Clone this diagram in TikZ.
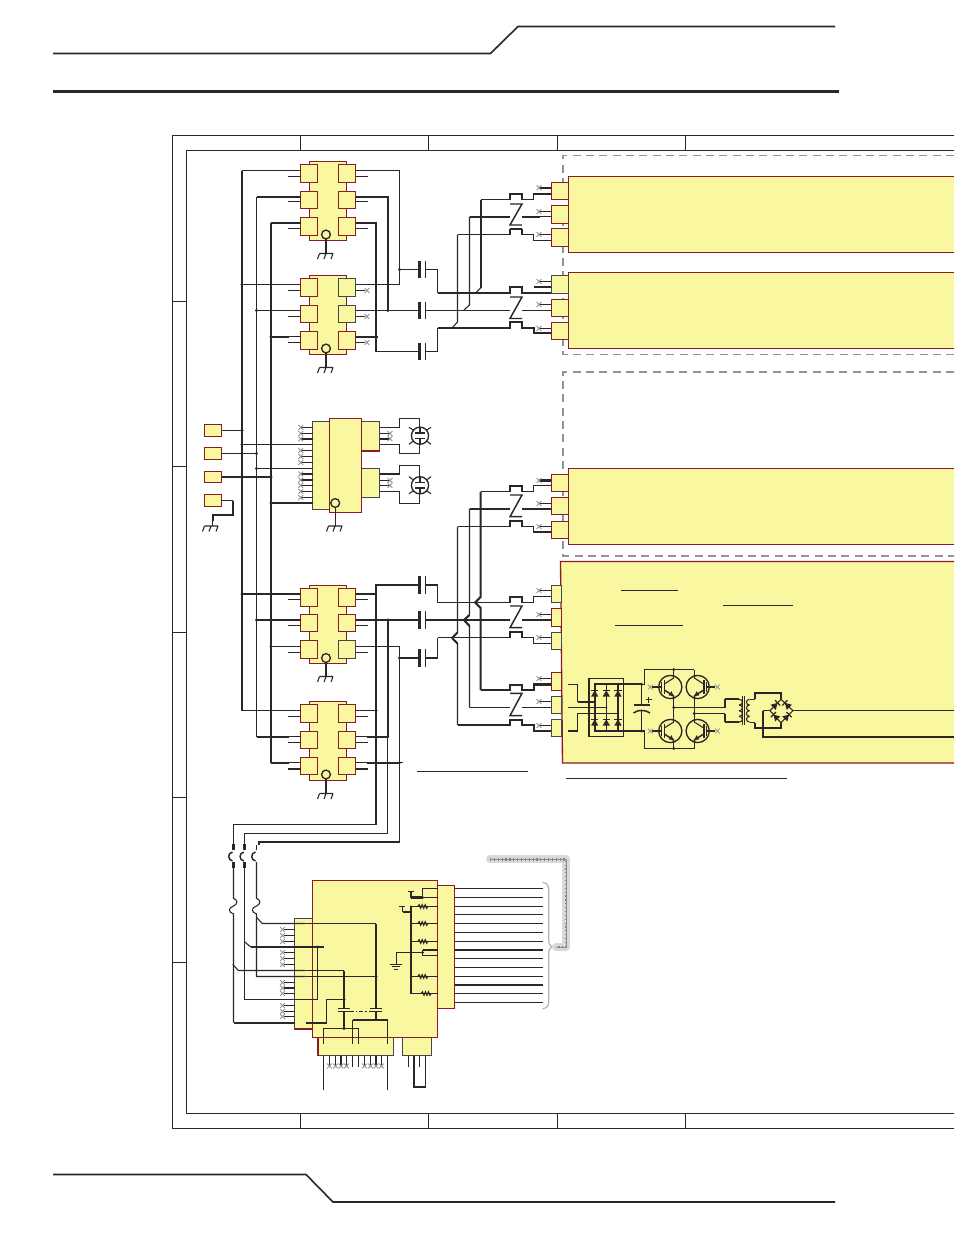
\documentclass[tikz,border=0pt]{standalone}
\definecolor{ink}{HTML}{2B2627}
\definecolor{yel}{HTML}{F9F7A0}
\definecolor{dred}{HTML}{8A1A24}
\definecolor{dgray}{HTML}{45474A}
\tikzset{
 t/.style={draw=ink,line width=0.8pt},
 k/.style={draw=ink,line width=1.55pt},
 ybox/.style={fill=yel,draw=dred,line width=0.8pt},
 gbox/.style={fill=yel,draw=dgray,line width=0.8pt},
 frameline/.style={draw=ink,line width=0.8pt},
 dashbox/.style={draw=gray!85,line width=1.2pt,dash pattern=on 6pt off 4pt},
 mk/.style={draw=gray!85,line width=0.6pt},
 rule/.style={draw=ink,line width=0.75pt},
}
% junction dot
\newcommand\jn[2]{\fill[ink] (#1,#2) circle[radius=1.6];}
% x mark
\newcommand\xm[2]{\draw[mk] (#1-2.4,#2-2.4)--(#1+2.4,#2+2.4) (#1-2.4,#2+2.4)--(#1+2.4,#2-2.4);}
% stub with x at the connector of a panel
\newcommand\xst[2][t]{\draw[#1] (539,#2)--(551,#2);\xm{539}{#2}}
% ground
\newcommand\gnd[2]{\draw[t] (#1-6.5,#2)--(#1+7,#2) (#1-6.5,#2)--(#1-8.5,#2+5.5) (#1,#2)--(#1-2,#2+5.5) (#1+7,#2)--(#1+5,#2+5.5);}
% module: top, p1t,p1b,p2t,p2b,p3t,p3b, bottom, circle y
\newcommand\modul[9]{%
 \path[ybox] (309.5,#1) rectangle (346.5,#8);
 \foreach \a/\b in {#2/#3,#4/#5,#6/#7}{
  \path[ybox] (300.5,\a) rectangle (317.5,\b);
  \path[ybox] (338.5,\a) rectangle (355.5,\b);}
 \draw[t,line width=1pt,fill=yel] (326,#9) circle[radius=4.4];
 \draw[t] (326,#9+4.4)--(326,#8+13);
 \gnd{326}{#8+13}}
% contact row
\newcommand\crow[5][t]{\draw[#1] (#2,#3)--(510,#3)--(510,#4)--(522,#4)--(522,#3)--(533.7,#3)--(533.7,#5)--(551,#5);\draw[k] (510,#4)--(522,#4);}
% Z contact
\newcommand\zc[2]{\draw[draw=ink,line width=1.1pt] (510,#1)--(522,#1)--(510,#2)--(522,#2);}
% diode: x,y,angle
\newcommand\diode[3]{\begin{scope}[shift={(#1,#2)},rotate=#3]
 \fill[ink] (-3.6,3.2)--(3.6,3.2)--(0,-3)--cycle; \draw[k,line width=1pt] (-3.6,-3)--(3.6,-3);\end{scope}}
% transistor: cx,cy,xscale
\newcommand\trans[3]{\begin{scope}[shift={(#1,#2)},xscale=#3]
 \draw[t,line width=1pt] (0,0) circle[radius=11.6];
 \draw[k,line width=1.2pt] (-6,-7)--(-6,7);
 \draw[t] (-9,-5)--(-9,5) (-11.6,0)--(-9,0);
 \draw[t] (-6,-3)--(3.4,-9)--(3.4,-11.6);
 \draw[k,line width=1.1pt] (-6,3)--(3.4,9)--(3.4,11.6);
 \fill[ink] (3.4,9)--(-1.6,8.4)--(1.2,4.2)--cycle;
 \end{scope}}
% resistor
\newcommand\resi[2]{\draw[draw=ink,line width=0.9pt] (#1-5,#2)--(#1-3.5,#2-1.7)--(#1-2,#2+1.7)--(#1-.5,#2-1.7)--(#1+1,#2+1.7)--(#1+2.5,#2-1.7)--(#1+4,#2+1.7)--(#1+5,#2);}
% tube
\newcommand\tube[2]{\draw[t,line width=1pt] (#1,#2) circle[radius=8.6];
 \draw[t] (#1-11,#2-8.5)--(#1-6,#2-5) (#1+11,#2-8.5)--(#1+6,#2-5) (#1-11,#2+8.5)--(#1-6,#2+5) (#1+11,#2+8.5)--(#1+6,#2+5);
 \draw[t] (#1-5,#2-2.7)--(#1+5,#2-2.7); \draw[t,line width=1.2pt] (#1-5,#2+2.9)--(#1+5,#2+2.9);
 \draw[t] (#1,#2-8.6)--(#1,#2-2.7) (#1,#2+8.6)--(#1,#2+2.9);}
\begin{document}
\begin{tikzpicture}[x=0.75pt,y=-0.75pt]
\useasboundingbox (0,0) rectangle (954,1235);
\fill[white] (0,0) rectangle (954,1235);
% page furniture
\draw[draw=ink,line width=1.2pt] (53,53.5)--(490.5,53.5)--(518,26.5)--(835,26.5);
\draw[draw=ink,line width=2.3pt] (53,91.5)--(839,91.5);
\draw[draw=ink,line width=1.2pt] (53,1174.5)--(306,1174.5)--(333,1202)--(835,1202);
% frame
\draw[frameline] (954,135.5)--(172.5,135.5)--(172.5,1128.5)--(954,1128.5);
\draw[frameline] (954,150.5)--(186.5,150.5)--(186.5,1113.5)--(954,1113.5);
\foreach \x in {300.5,428.5,557.5,685.5}{\draw[frameline] (\x,135.5)--(\x,150.5) (\x,1113.5)--(\x,1128.5);}
\foreach \y in {301.5,466.5,632.5,797.5,962.5}{\draw[frameline] (172.5,\y)--(186.5,\y);}
% dashed regions
\draw[dashbox] (954,155.5)--(563,155.5)--(563,354.5)--(954,354.5);
\draw[dashbox] (954,372)--(563,372)--(563,556)--(954,556);
% panels
\path[ybox] (954,176.5)--(568.5,176.5)--(568.5,252.5)--(954,252.5);
\path[ybox] (954,272.5)--(568.5,272.5)--(568.5,348.5)--(954,348.5);
\path[ybox] (954,468.5)--(568.5,468.5)--(568.5,544.5)--(954,544.5);
\path[ybox,line width=1pt] (954,561.5)--(560.5,561.5)--(562.5,763)--(954,763);
% panel connectors
\foreach \a/\b in {182.5/199.5,205.5/223.5,228.5/246.5,275.5/293.5,299.5/316.5,322.5/339.5,474.5/491.5,497.5/514.5,521.5/538.5}
 {\path[ybox] (551.5,\a) rectangle (568.5,\b);}
\path[gbox] (551.5,275.5) rectangle (568.5,293.5);
\foreach \a/\b in {608.5/626.5,672.5/690.5}{\path[ybox] (551.5,\a) rectangle (561.5,\b);}
\foreach \a/\b in {585.5/602.5,632.5/649.5,696.5/713.5,719.5/736.5}{\path[gbox] (551.5,\a) rectangle (561.8,\b);}
% modules
\modul{161.5}{164.5}{182.5}{191.5}{208.5}{217.5}{235.5}{240.5}{234.5}
\modul{275.5}{278.5}{296.5}{305.5}{322.5}{331.5}{349.5}{354.5}{348.5}
\modul{585.5}{588.5}{606.5}{614.5}{631.5}{640.5}{658.5}{663.5}{658}
\modul{701.5}{704.5}{722.5}{731.5}{748.5}{757.5}{774.5}{780.5}{774.5}
\path[gbox] (338.5,278.5) rectangle (355.5,296.5);
\path[gbox] (338.5,305.5) rectangle (355.5,322.5);
\path[gbox] (338.5,640.5) rectangle (355.5,658.5);
% pad stubs
\foreach \y in {176.5,201.5,228.5,290.5,316.5,342.5,599.5,625.5,652.5,716.5,742.5}{\draw[t] (288,\y)--(300.5,\y);}
\draw[k] (288,768.7)--(300.5,768.7);
\foreach \y in {176.5,201.5,228.5,599.5,625.5,652.5,716.5,742.5}{\draw[t] (355.5,\y)--(367.5,\y);}
\draw[k] (355.5,768.7)--(367.5,768.7);
\foreach \y in {290.5,316.5,342.5}{\draw[t] (355.5,\y)--(365,\y);\xm{367}{\y}}
% buses
\draw[k] (242,170.5)--(242,710.5);
\draw[t] (256.5,197)--(256.5,736.7);
\draw[k] (271,223)--(271,762.7);
\draw[t] (242,170.5)--(300.5,170.5);
\draw[k] (256.5,197)--(289,197); \draw[t] (289,197)--(300.5,197);
\draw[k] (271,223)--(290,223); \draw[t] (290,223)--(300.5,223);
\draw[t] (242,284.5)--(300.5,284.5); \jn{242}{284.5}
\draw[t] (256.5,310.5)--(300.5,310.5); \jn{256.5}{310.5}
\draw[k] (271,336.7)--(289,336.7); \draw[t] (289,336.7)--(300.5,336.7); \jn{271}{336.7}
\draw[k] (242,594)--(289,594); \draw[t] (289,594)--(300.5,594); \jn{242}{594}
\draw[k] (256.5,620)--(300.5,620); \jn{256.5}{620}
\draw[t] (271,646.5)--(300.5,646.5); \jn{271}{646.5}
\draw[t] (242,710.5)--(300.5,710.5);
\draw[k] (256.5,736.7)--(289,736.7); \draw[t] (289,736.7)--(300.5,736.7);
\draw[k] (271,762.7)--(289,762.7); \draw[t] (289,762.7)--(300.5,762.7);
% module 1/2 right side
\draw[t] (355.5,170.5)--(399.5,170.5)--(399.5,284.5)--(355.5,284.5);
\draw[t] (355.5,197)--(367,197); \draw[k] (367,197)--(387.7,197)--(387.7,310.5);
\draw[k] (355.5,222.7)--(376,222.7)--(376,351.5);
\draw[t] (355.5,310.5)--(419,310.5);
\draw[k] (355.5,336.7)--(378,336.7);
\jn{399.5}{269.5}\jn{387.7}{310.5}\jn{376}{336.7}
% capacitors upper
\newcommand\capa[1]{\draw[k,line width=1.8pt] (419.5,#1-8.7)--(419.5,#1+8.7); \draw[k,line width=1.2pt] (425.3,#1-8.7)--(425.3,#1+8.7);}
\draw[t] (399.5,269.5)--(419,269.5); \capa{269.5}
\capa{310.5}
\draw[t] (376,351.5)--(419,351.5); \capa{351.5}
\draw[t] (425,269.5)--(437.5,269.5)--(437.5,293);
\draw[t] (425,351.5)--(437.5,351.5)--(437.5,328);
\draw[t] (425,310.5)--(510,310.5);
% risers panel 1
\draw[k] (481,199.5)--(481,287.7); \draw[t] (481,287.7)--(475.5,293);
\draw[t] (469.5,216.7)--(469.5,305)--(463.5,310.5);
\draw[t] (457.5,234.5)--(457.5,322)--(452,328);
% panel 1 rows
\crow{481}{199.5}{194}{194}
\draw[k] (469.5,216.7)--(510,216.7) (522,216.7)--(540,216.7); \draw[t] (540,216.7)--(551,216.7);
\crow{457.5}{234.5}{229.3}{240.5}
\zc{204}{225}
\xst[k]{187.7} \xst{211.5} \xst{234.5}
% panel 2 rows
\crow[k]{437.5}{293}{286.7}{293}
\draw[t] (533.7,293)--(551,293);
\draw[t] (533.7,287)--(551,287);
\draw[t] (522,310.5)--(551,310.5);
\crow[k]{437.5}{328}{322}{333.3}
\zc{297}{318.5}
\xst{281.5} \xst{304.5} \xst{328.5}
% panel 3 risers with jump
\draw[k] (480.7,491.5)--(480.7,597)--(475,602.5)--(480.7,608)--(480.7,690);
\draw[t] (469.5,508.7)--(469.5,615)--(464,620)--(469.5,626)--(469.5,707.5);
\draw[t] (457.5,526.5)--(457.5,632.5)--(452,638)--(457.5,643.5)--(457.5,725);
\draw[k] (452,638)--(457.5,632.5) (452,638)--(457.5,643.5);
\draw[k] (464,620)--(469.5,615) (464,620)--(469.5,626);
% panel 3 rows
\crow{480.7}{491.5}{485.7}{485.7}
\draw[k] (469.5,508.7)--(510,508.7) (522,508.7)--(551,508.7);
\crow{457.5}{526.5}{521}{532}
\zc{495}{516.7}
\xst[k]{480.5} \xst{503.5} \xst{526.5}
% big panel rows
\draw[t] (425,585)--(437.5,585)--(437.5,602.5);
\crow{437.5}{602.5}{596.7}{596.7}
\draw[k] (425,620)--(510,620) (522,620)--(551,620);
\draw[t] (425,658)--(437.5,658)--(437.5,637.5);
\crow{437.5}{637.5}{632}{643.5}
\zc{606}{627.7}
\xst{590.5} \xst{614.5} \xst{637.5}
\crow[k]{480.7}{690}{685}{684.5}
\draw[t] (469.5,707.5)--(510,707.5) (522,707.5)--(551,707.5);
\crow[k]{457.5}{725}{719.7}{731}
\zc{693.3}{715.7}
\xst{678.5} \xst{701.5} \xst{725.5}
% module 3/4 right side
\draw[t] (355.5,594)--(367,594); \draw[k] (367,594)--(376,594);
\draw[k] (376,824.5)--(376,585)--(419,585); \capa{585}
\draw[k] (355.5,620)--(419,620); \capa{620}
\draw[k] (387.7,620)--(387.7,736.7); \draw[t] (387.5,736.7)--(387.5,833.5);
\draw[t] (355.5,646.5)--(399.5,646.5);\draw[t] (399.5,646.5)--(399.5,842);
\draw[k] (399.5,658)--(419,658); \capa{658} \jn{399.5}{658} \jn{387.7}{620}
\draw[t] (355.5,710.5)--(376,710.5); \jn{376}{710.5}
\draw[t] (355.5,736.7)--(367,736.7); \draw[k] (367,736.7)--(387.7,736.7);
\draw[t] (355.5,762.7)--(367,762.7); \draw[k] (367,762.7)--(399.5,762.7); \draw[t] (399.5,762.7)--(402.5,762.7);
\jn{387.7}{736.7}\jn{399.5}{762.7}
% input terminals
\foreach \a/\b in {424.5/436.5,447.5/459.5,471.5/482.5,494.5/506.5}{\path[ybox] (204.5,\a) rectangle (221.5,\b);}
\draw[t] (221.5,430.5)--(242,430.5); \jn{242}{430.5}
\draw[t] (221.5,453.5)--(256.5,453.5); \jn{256.5}{453.5}
\draw[k] (221.5,477)--(271,477); \jn{271}{477}
\draw[t] (221.5,500.5)--(233.3,500.5); \draw[k] (233.3,500.5)--(233.3,515)--(212.7,515)--(212.7,521);
\draw[t] (212.7,521)--(212.7,526);\gnd{211}{526}
% central block
\path[gbox] (312.5,421.5) rectangle (329.5,509.5);
\path[gbox] (361.5,421.5) rectangle (379.5,451);
\path[gbox] (361.5,468.5) rectangle (379.5,497.5);
\draw[dred,line width=1pt] (361.5,451)--(379.5,451);
\path[ybox] (329.5,418.5) rectangle (361.5,512.5);
\draw[t,line width=1pt] (335.2,503) circle[radius=4.4];
\draw[t] (335.2,507.4)--(335.2,526); \gnd{335}{526}
\draw[t] (242,444.5)--(312.5,444.5); \jn{242}{444.5}
\draw[t] (256.5,468.5)--(312.5,468.5); \jn{256.5}{468.5}
\draw[t] (271,503)--(312.5,503); \jn{271}{503}
\foreach \y in {427.5,433.5,450.5,456.5,462.5,485.5,491.5,497.5}{\draw[t] (301,\y)--(312.5,\y);\xm{300.7}{\y}}
\foreach \y in {439,474,480}{\draw[k] (301,\y)--(312.5,\y); \xm{300.7}{\y}}
% tubes
\draw[t] (379.5,427.5)--(399.5,427.5)--(399.5,418.5)--(419.7,418.5)--(419.7,427);
\draw[t] (379.5,444.5)--(399.5,444.5)--(399.5,453.5)--(419.7,453.5)--(419.7,444);
\draw[k] (379.5,474)--(399.5,474); \draw[t] (399.5,474)--(399.5,465.5)--(419.7,465.5)--(419.7,477);
\draw[t] (379.5,491.5)--(399.5,491.5)--(399.5,503.5)--(419.7,503.5)--(419.7,494);
\draw[t] (379.5,433.5)--(389,433.5); \draw[k] (379.5,438.7)--(389,438.7);
\draw[t] (379.5,480.5)--(389,480.5) (379.5,485.5)--(389,485.5);
\xm{390}{433.5}\xm{390}{438.7}\xm{390}{480.5}\xm{390}{485.5}
\tube{420}{435.7} \tube{420}{485.3}
% underlines
\draw[rule] (621,590.5)--(678,590.5) (723,605.5)--(793,605.5) (615,625.5)--(683,625.5);
\draw[rule] (417,771.5)--(528,771.5) (566.3,778.5)--(786.7,778.5);
% rectifier
\draw[t,line width=0.9pt] (588.7,678.5) rectangle (623.5,736.5);
\draw[k] (588.7,678.5)--(588.7,736.5);
\draw[k] (641.7,684.3)--(594.7,684.3)--(594.7,731)--(641.7,731);
\foreach \x in {606.3,618}{\draw[t] (\x,684.3)--(\x,731);}
\foreach \x in {594.7,606.3,618}{\diode{\x}{693.3}{0}\diode{\x}{722.3}{0}}
\draw[t] (568,684.3)--(577.7,684.3)--(577.7,701.7); \draw[k] (577.7,701.7)--(594.7,701.7);
\draw[t] (568,707.5)--(606.3,707.5);
\draw[k] (568,731)--(577.7,731); \draw[t] (577.7,731)--(577.7,713.5)--(618,713.5);
\foreach \x/\y in {594.7/701.7,606.3/707.5,618/713.5,606.3/684.3,618/684.3,606.3/731,618/731}{\fill[ink] (\x,\y) circle[radius=1];}
% capacitor
\draw[t] (641.7,684.3)--(641.7,705) (641.7,711)--(641.7,731);
\draw[k] (633.5,705)--(650,705);
\draw[k,line width=1.1pt] (633.5,713) .. controls (638,709.5) and (645,709.5) .. (650,713);
\draw[k,line width=1.1pt] (645.7,699.7)--(651.7,699.7) (648.7,696.7)--(648.7,702.7);
\jn{641.7}{684.3}\jn{641.7}{731}
% inverter
\draw[t] (641.7,684.3)--(644.3,684.3)--(644.3,669.5)--(694.3,669.5);
\draw[t] (641.7,731)--(644.3,731)--(644.3,748.5)--(694.3,748.5);
\draw[t] (673.7,669.5)--(673.7,676) (673.7,698)--(673.7,720) (673.7,742)--(673.7,748.5);
\draw[t] (694.3,669.5)--(694.3,676) (694.3,698)--(694.3,720) (694.3,742)--(694.3,748.5);
\trans{670.3}{687}{1}\trans{697.7}{687}{-1}\trans{670.3}{731}{1}\trans{697.7}{731}{-1}
\jn{673.7}{669.5}\jn{673.7}{748.5}\jn{673.7}{707.5}\jn{694.3}{713.5}
\foreach \y in {687,731}{
 \draw[t] (652,\y)--(658.7,\y); \xm{650.3}{\y}
 \draw[t] (709.3,\y)--(715,\y); \xm{717.3}{\y}}
\draw[t] (673.7,707.5)--(725.3,707.5); \draw[k] (725.3,699.3)--(725.3,707.5);
\draw[t] (694.3,713.5)--(725.3,713.5); \draw[k] (725.3,713.5)--(725.3,722);
\draw[k] (725.3,699.3)--(739,699.3) (725.3,722)--(739,722);
\foreach \y in {699.3,705,710.7,716.4}{
 \draw[t] (739,\y) .. controls (743.5,\y) and (743.5,\y+5.7) .. (739,\y+5.7);
 \draw[t] (749.5,\y) .. controls (745.5,\y) and (745.5,\y+5.7) .. (749.5,\y+5.7);}
\draw[t] (742.6,696)--(742.6,725) (744.8,696)--(744.8,725);
\draw[t] (749.5,699.3)--(755.3,699.3); \draw[k] (755.3,699.3)--(755.3,692.7)--(781,692.7)--(781,699.3);
\draw[t] (749.5,722.5)--(755.3,722.5); \draw[k] (755.3,722.5)--(755.3,727.7)--(781,727.7)--(781,722.7);
\draw[t] (781,699.3)--(770,710.7)--(781,722.7)--(793,710.7)--cycle;
\diode{775.5}{705}{-45}\diode{787}{705}{45}\diode{775.5}{716.7}{45}\diode{787}{716.7}{-45}
\draw[t] (793,710.5)--(954,710.5);
\draw[t] (770,710.5)--(763.3,710.5); \draw[k] (763.3,710.5)--(763.3,736.7)--(954,736.7);
% lower block
\path[gbox] (318,1030) rectangle (393.5,1055.5);
\draw[dred,line width=1pt] (318,1037)--(318,1055.5);
\path[gbox] (402.5,1030) rectangle (431.5,1055.5);
\path[gbox] (294.5,918.5) rectangle (320,1029);
\draw[dred,line width=1pt] (296,1029)--(312,1029);
\path[ybox] (437.5,885.5) rectangle (454.5,1008.5);
\path[ybox] (312.5,880.5) rectangle (437.5,1037.5);
% left stubs
\foreach \y in {929.5,935.5,941.5,952.5,958.5,964.5,982.5,993.5,1005.5,1011.5,1016.5}{\draw[t] (284,\y)--(294.5,\y);\xm{282.5}{\y}}
\draw[k] (284,988)--(294.5,988); \xm{282.5}{988}
% incoming wires
\draw[t] (376,824.5)--(233.5,824.5)--(233.5,844);
\draw[k] (233.5,844)--(233.5,850) (233.5,862)--(233.5,868);
\draw[k,line width=1.1pt] (232.5,852) .. controls (227.5,853) and (227.5,860) .. (232.5,861);
\draw[t] (233.5,868)--(233.5,898.3) .. controls (238,900) and (238,904) .. (233.5,906) .. controls (228,908) and (228,912) .. (233.5,914)--(233.5,1022.7);
\draw[k] (233.5,1022.7)--(294.5,1022.7);
\draw[t] (387.5,833.5)--(244.5,833.5)--(244.5,844);
\draw[k] (244.5,844)--(244.5,850) (244.5,862)--(244.5,868);
\draw[k,line width=1.1pt] (243.8,852) .. controls (238.8,853) and (238.8,860) .. (243.8,861);
\draw[t] (244.5,868)--(244.5,999.5)--(305.7,999.5);
\draw[k] (399.5,842)--(259.3,842)--(259.3,845);
\draw[t] (256.5,845)--(256.5,850);
\draw[k,line width=1.1pt] (255.5,852) .. controls (250.5,853) and (250.5,860) .. (255.5,861);
\draw[t] (256.5,862)--(256.5,898.3) .. controls (261,900) and (261,904) .. (256.5,906) .. controls (251,908) and (251,912) .. (256.5,914)--(256.5,976.5)--(305.7,976.5);
\draw[t] (256.5,917.3)--(262.3,923.5)--(305.7,923.5);
\draw[t] (244.5,941.7)--(250.7,947); \draw[k] (250.7,947)--(324,947);
\draw[t] (232.7,964.3)--(238.3,970.5)--(305.7,970.5);
% inside main
\draw[t] (305.7,923.5)--(376,923.5);
\draw[k,line width=1.3pt] (376,923.5)--(376,1008.3);
\draw[k] (376,1011.7)--(376,1020);
\draw[t] (317.7,947)--(317.7,999.5)--(305.7,999.5); \jn{317.7}{947}
\draw[t] (305.7,970.5)--(344,970.5);
\draw[k,line width=1.4pt] (344,970.5)--(344,1008.3); \draw[k] (344,1011.7)--(344,1029.3);
\draw[t] (305.7,976.5)--(376,976.5); \jn{376}{976.5}
\draw[k] (305.7,1022.7)--(326.7,1022.7); \draw[t] (326.7,1022.7)--(326.7,999.5)--(344,999.5); \jn{344}{999.5}
\draw[k,line width=1.1pt] (338,1008.3)--(350,1008.3) (338,1011.7)--(350,1011.7) (370,1008.3)--(382,1008.3) (370,1011.7)--(382,1011.7);
\draw[t,dash pattern=on 3pt off 1.5pt on 1pt off 1.5pt] (350,1011.3)--(370,1011.3);
\draw[k] (352.5,1020)--(387.5,1020); \draw[t] (352.5,1020)--(352.5,1043.7) (387.5,1020)--(387.5,1043.7);
\draw[t] (323.5,1043.7)--(323.5,1028.5)--(358.5,1028.5)--(358.5,1043.7); \jn{344}{1028.6}
% bottom stubs
\foreach \x in {329.5,335.5,346.5,364.5,370.5,381.5}{\draw[t] (\x,1055.5)--(\x,1067);\xm{\x}{1066}}
\foreach \x in {341,376}{\draw[k] (\x,1055.5)--(\x,1067);\xm{\x}{1066}}
\foreach \x in {352.5,358.5,408.5,419.5}{\draw[t] (\x,1055.5)--(\x,1067);}
\draw[t] (323.5,1055.5)--(323.5,1090) (387.5,1055.5)--(387.5,1090);
\draw[k] (414,1055.5)--(414,1087.3)--(425.5,1087.3); \draw[t] (425.5,1087.3)--(425.5,1055.5);
% right-side outputs
\foreach \y in {888.5,897.5,906.5,914.5,923.5,932.5,941.5,958.5,967.5,976.5,993.5,1002.5}{\draw[t] (454.5,\y)--(543,\y);}
\draw[k] (454.5,950)--(543,950) (454.5,985)--(543,985);
% inner right
\draw[t] (408.3,891.5)--(413.7,891.5) (411,891.5)--(411,897.5);
\draw[k] (411,897.5)--(422.5,897.5); \draw[t] (422.5,897.5)--(437.5,897.5);
\draw[t] (437.5,888.5)--(422.5,888.5)--(422.5,897.5); \jn{422.5}{897.5}
\draw[t] (399.3,906.5)--(405,906.5) (402.5,906.5)--(402.5,911.7);
\draw[k] (402.5,911.7)--(411,911.7);
\draw[k] (411,906.5)--(411,993.5);
\foreach \y in {906.5,923.5,941.5,976.5}{\draw[t] (411,\y)--(437.5,\y); \resi{422.7}{\y}\fill[ink] (411,\y) circle[radius=1.2];}
\draw[t] (411,993.5)--(437.5,993.5); \resi{426}{993.5}
\draw[k] (437.5,950)--(422.5,950); \draw[t] (422.5,950)--(422.5,955.5)--(437.5,955.5);
\draw[t] (422.5,952.5)--(396.5,952.5)--(396.5,964.5); \jn{422.5}{952.5}
\draw[t] (390,964.5)--(402,964.5); \draw[t] (392,966.9)--(400,966.9); \draw[t] (394,969.3)--(398,969.3);
% brace and gray cable
\draw[draw=gray!60,line width=0.9pt] (542.5,882.5) .. controls (547,883) and (548.7,885) .. (548.7,890)--(548.7,940) .. controls (548.7,944) and (550,946) .. (552,946.8) .. controls (550,947.6) and (548.7,950) .. (548.7,954)--(548.7,1001) .. controls (548.7,1006) and (547,1008) .. (542.5,1008.7);
\draw[draw=gray!30,line width=6pt,line join=round,line cap=round] (490,859.3)--(566,859.3)--(566,947)--(556,947);
\draw[draw=gray,line width=1.8pt,dash pattern=on 0.9pt off 2pt] (490,859.3)--(566,859.3)--(566,947)--(556,947);
\draw[draw=gray!90,line width=0.5pt] (490,859.3)--(566,859.3)--(566,947)--(556,947);
\end{tikzpicture}
\end{document}
